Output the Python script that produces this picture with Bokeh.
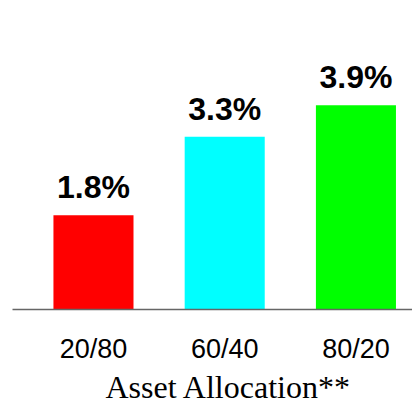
from bokeh.plotting import figure
from bokeh.models import Range1d, FixedTicker, ColumnDataSource, Title
from bokeh.embed import file_html
from bokeh.resources import INLINE
from bokeh.core.properties import value

categories = ["20/80", "60/40", "80/20"]
returns = [1.8, 3.3, 3.9]
labels = ["1.8%", "3.3%", "3.9%"]
colors = ["#ff0000", "#00ffff", "#00ff00"]
x_title = "Asset Allocation**"

xs = list(range(len(categories)))
src = ColumnDataSource(dict(x=xs, top=returns, label=labels, color=colors))

p = figure(width=412, height=404, output_backend="svg", toolbar_location=None,
           x_range=Range1d(-0.617, 2.431), y_range=Range1d(0, 5.9),
           y_axis_location=None, min_border_left=12, min_border_right=0,
           min_border_top=0, min_border_bottom=0)
p.vbar(x="x", top="top", width=0.61, bottom=0, fill_color="color",
       line_color=None, source=src)
p.text(x="x", y="top", text="label", text_align="center",
       text_baseline="alphabetic", y_offset=-28,
       text_font=value("Liberation Sans"), text_font_style="bold",
       text_font_size="32px", text_color="black", source=src)

p.xgrid.visible = False
p.ygrid.visible = False
p.outline_line_color = None
p.background_fill_color = "white"
p.border_fill_color = "white"

ax = p.xaxis[0]
ax.ticker = FixedTicker(ticks=xs)
ax.major_label_overrides = {i: c for i, c in zip(xs, categories)}
ax.major_tick_out = 0
ax.major_tick_in = 0
ax.minor_tick_out = 0
ax.minor_tick_in = 0
ax.axis_line_color = "#666666"
ax.axis_line_width = 1.5
ax.major_label_text_font = "Liberation Sans"
ax.major_label_text_font_size = "27px"
ax.major_label_text_color = "black"
ax.major_label_standoff = 24

t = Title(text=x_title, align="left", offset=93, standoff=0,
          text_font="Liberation Serif", text_font_style="normal",
          text_font_size="32px", text_color="black", text_line_height=0.85)
p.add_layout(t, "below")

open("out.html", "w").write(file_html(p, INLINE))
